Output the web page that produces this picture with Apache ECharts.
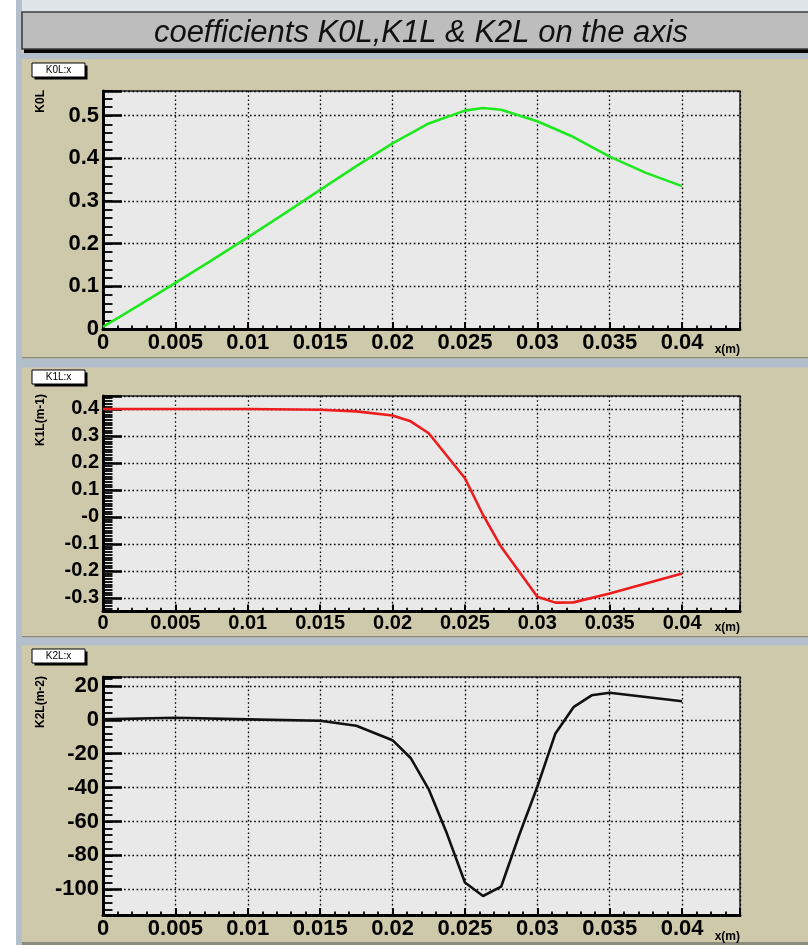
<!DOCTYPE html>
<html>
<head>
<meta charset="utf-8">
<script src="https://cdn.jsdelivr.net/npm/echarts@6/dist/echarts.min.js"></script>
<style>
  html, body { margin: 0; padding: 0; background: #ffffff; }
  #chart { width: 808px; height: 945px; }
</style>
</head>
<body>
<div id="chart"></div>
<script>
// K0L (dipole) along x
const k0lX = [0, 0.0025, 0.005, 0.0075, 0.01, 0.0125, 0.015, 0.0175, 0.02, 0.0225, 0.025, 0.02625, 0.0275, 0.03, 0.0325, 0.035, 0.0375, 0.04];
const k0lY = [0.005, 0.056, 0.108, 0.161, 0.215, 0.270, 0.326, 0.382, 0.435, 0.482, 0.512, 0.518, 0.514, 0.487, 0.450, 0.404, 0.366, 0.335];

// K1L (quadrupole, m-1) along x
const k1lX = [0, 0.005, 0.01, 0.015, 0.0175, 0.02, 0.02125, 0.0225, 0.025, 0.02625, 0.0275, 0.03, 0.03125, 0.0325, 0.035, 0.0375, 0.04];
const k1lY = [0.400, 0.400, 0.400, 0.397, 0.391, 0.376, 0.354, 0.310, 0.143, 0.007, -0.111, -0.296, -0.318, -0.317, -0.284, -0.247, -0.210];

// K2L (sextupole, m-2) along x
const k2lX = [0, 0.005, 0.01, 0.015, 0.0175, 0.02, 0.02125, 0.0225, 0.02375, 0.025, 0.02625, 0.0275, 0.02875, 0.03, 0.03125, 0.0325, 0.03375, 0.035, 0.0375, 0.04];
const k2lY = [0.3, 1.2, 0.3, -0.5, -3.5, -12, -22.5, -41, -67, -96, -104, -98.5, -68, -39.5, -8, 7.5, 14.5, 16, 13.5, 11];

// tick labels
const xTicks = [0, 0.005, 0.01, 0.015, 0.02, 0.025, 0.03, 0.035, 0.04];
const xTickLabels = ['0', '0.005', '0.01', '0.015', '0.02', '0.025', '0.03', '0.035', '0.04'];
const k0lTicks = [0, 0.1, 0.2, 0.3, 0.4, 0.5];
const k0lTickLabels = ['0', '0.1', '0.2', '0.3', '0.4', '0.5'];
const k1lTicks = [-0.3, -0.2, -0.1, 0, 0.1, 0.2, 0.3, 0.4];
const k1lTickLabels = ['-0.3', '-0.2', '-0.1', '-0', '0.1', '0.2', '0.3', '0.4'];
const k2lTicks = [-100, -80, -60, -40, -20, 0, 20];
const k2lTickLabels = ['-100', '-80', '-60', '-40', '-20', '0', '20'];

const FONT = '"Liberation Sans", Arial, Helvetica, sans-serif';

function labelFor(ticks, labels, step) {
  return function (v) {
    for (let i = 0; i < ticks.length; i++) {
      if (Math.abs(ticks[i] - v) < step * 1e-3) return labels[i];
    }
    return '';
  };
}

// fixed tick step, with ticks kept on multiples of the step
function stepped(min, max, step) {
  return { min: min, max: max, minInterval: step, maxInterval: step,
    splitNumber: Math.max(1, Math.round((max - min) / step)) };
}

// one pad per coefficient
const pads = [
  { name: 'K0L:x', yTitle: 'K0L', xs: k0lX, ys: k0lY, color: '#1ee81e',
    frame: { left: 103, top: 91, width: 637, height: 238 },
    yMin: 0, yMax: 0.558, yStep: 0.1, yMinor: 0.02, ticks: k0lTicks, labels: k0lTickLabels,
    fontSize: 22, xMargin: 3, xLen: 7, yLen: 19, box: [32, 63], yTitleTop: 90, xTitleBase: 356 },
  { name: 'K1L:x', yTitle: 'K1L(m-1)', xs: k1lX, ys: k1lY, color: '#ee1c1c',
    frame: { left: 103, top: 396, width: 637, height: 215 },
    yMin: -0.349, yMax: 0.448, yStep: 0.1, yMinor: 0.01, ticks: k1lTicks, labels: k1lTickLabels,
    fontSize: 20, xMargin: 2, xLen: 6.5, yLen: 19, box: [32, 370], yTitleTop: 394, xTitleBase: 634 },
  { name: 'K2L:x', yTitle: 'K2L(m-2)', xs: k2lX, ys: k2lY, color: '#111111',
    frame: { left: 103, top: 677, width: 637, height: 238 },
    yMin: -115.2, yMax: 25.3, yStep: 20, yMinor: 4, ticks: k2lTicks, labels: k2lTickLabels,
    fontSize: 22, xMargin: 3, xLen: 7, yLen: 19, box: [32, 649], yTitleTop: 676, xTitleBase: 943 }
];

const grids = [], xAxes = [], yAxes = [], series = [];
const dotted = { color: '#000', width: 1.3, type: [1.6, 2.6] };

pads.forEach((p, i) => {
  grids.push(Object.assign({ show: true, backgroundColor: '#e9e9e9', borderColor: '#222', borderWidth: 1.5,
    containLabel: false, outerBoundsMode: 'none' }, p.frame));

  const labelStyle = { color: '#000', fontFamily: FONT, fontWeight: 'bold', fontSize: p.fontSize };

  // major x axis
  xAxes.push(Object.assign({ type: 'value', gridIndex: i, position: 'bottom',
    axisLine: { show: true, onZero: false, lineStyle: { color: '#000', width: 3 } },
    axisTick: { show: true, inside: true, length: p.xLen, lineStyle: { color: '#000', width: 2 } },
    splitLine: { show: true, lineStyle: dotted },
    axisLabel: Object.assign({ margin: p.xMargin, formatter: labelFor(xTicks, xTickLabels, 0.005) }, labelStyle)
  }, stepped(0, 0.044, 0.005)));
  // minor x ticks
  xAxes.push(Object.assign({ type: 'value', gridIndex: i, position: 'bottom',
    axisLine: { show: false, onZero: false },
    axisTick: { show: true, inside: true, length: p.xLen / 2, lineStyle: { color: '#000', width: 1.8 } },
    splitLine: { show: false }, axisLabel: { show: false }
  }, stepped(0, 0.044, 0.001)));

  // major y axis
  yAxes.push(Object.assign({ type: 'value', gridIndex: i, position: 'left',
    axisLine: { show: true, onZero: false, lineStyle: { color: '#000', width: 3 } },
    axisTick: { show: true, inside: true, length: p.yLen, lineStyle: { color: '#000', width: 2.5 } },
    splitLine: { show: true, lineStyle: dotted },
    axisLabel: Object.assign({ margin: 4, formatter: labelFor(p.ticks, p.labels, p.yStep) }, labelStyle)
  }, stepped(p.yMin, p.yMax, p.yStep)));
  // minor y ticks
  yAxes.push(Object.assign({ type: 'value', gridIndex: i, position: 'left',
    axisLine: { show: false, onZero: false },
    axisTick: { show: true, inside: true, length: p.yLen / 2, lineStyle: { color: '#000', width: 1.8 } },
    splitLine: { show: false }, axisLabel: { show: false }
  }, stepped(p.yMin, p.yMax, p.yMinor)));

  series.push({ type: 'line', name: p.name, xAxisIndex: 2 * i, yAxisIndex: 2 * i,
    data: p.xs.map((x, k) => [x, p.ys[k]]),
    symbol: 'none', smooth: false, clip: true, z: 5,
    lineStyle: { color: p.color, width: 2.6 } });
});

// canvas decoration: pads, borders, title box, pad labels and axis titles
const graphics = [
  { type: 'rect', shape: { x: 16, y: 0, width: 792, height: 12 }, style: { fill: '#dfe4e8' }, z: -10 },
  { type: 'rect', shape: { x: 16, y: 0, width: 6, height: 945 }, style: { fill: '#b3c0cc' }, z: -9 },
  { type: 'rect', shape: { x: 22, y: 50, width: 786, height: 895 }, style: { fill: '#cfc9ab' }, z: -10 },
  { type: 'rect', shape: { x: 22, y: 53, width: 786, height: 6 }, style: { fill: '#b3c0cc' }, z: -9 },
  { type: 'rect', shape: { x: 22, y: 357, width: 786, height: 1.5 }, style: { fill: '#8c8a7c' }, z: -9 },
  { type: 'rect', shape: { x: 22, y: 358.5, width: 786, height: 9 }, style: { fill: '#b3c0cc' }, z: -9 },
  { type: 'rect', shape: { x: 22, y: 636, width: 786, height: 1.5 }, style: { fill: '#8c8a7c' }, z: -9 },
  { type: 'rect', shape: { x: 22, y: 637.5, width: 786, height: 8 }, style: { fill: '#b3c0cc' }, z: -9 },
  { type: 'rect', shape: { x: 22, y: 942, width: 786, height: 3 }, style: { fill: '#8c8a7c' }, z: -9 },
  // title box
  { type: 'rect', shape: { x: 24, y: 47, width: 790, height: 6 }, style: { fill: '#050505' }, z: -8 },
  { type: 'rect', shape: { x: 22, y: 12, width: 790, height: 37 }, style: { fill: '#bdbdbd', stroke: '#3a3a3a', lineWidth: 1.5 }, z: -7 },
  { type: 'text', x: 421, y: 33, z: 10,
    style: { text: 'coefficients K0L,K1L & K2L on the axis', font: 'italic 31px ' + FONT, fill: '#111',
      align: 'center', verticalAlign: 'middle', textAlign: 'center', textVerticalAlign: 'middle' } }
];

pads.forEach((p) => {
  const bx = p.box[0], by = p.box[1];
  graphics.push({ type: 'rect', shape: { x: bx + 2.5, y: by + 2.5, width: 53, height: 14 }, style: { fill: '#000' }, z: 1 });
  graphics.push({ type: 'rect', shape: { x: bx, y: by, width: 53, height: 14 }, style: { fill: '#fff', stroke: '#000', lineWidth: 1 }, z: 2 });
  graphics.push({ type: 'text', x: bx + 26.5, y: by + 7.5, z: 3,
    style: { text: p.name, font: '10px ' + FONT, fill: '#000', align: 'center', verticalAlign: 'middle',
      textAlign: 'center', textVerticalAlign: 'middle' } });
  graphics.push({ type: 'text', x: 41, y: p.yTitleTop, rotation: Math.PI / 2, z: 3,
    style: { text: p.yTitle, font: 'bold 12px ' + FONT, fill: '#000', align: 'right', verticalAlign: 'middle',
      textAlign: 'right', textVerticalAlign: 'middle' } });
  graphics.push({ type: 'text', x: 740, y: p.xTitleBase, z: 3,
    style: { text: 'x(m)', font: 'bold 12px ' + FONT, fill: '#000', align: 'right', verticalAlign: 'bottom',
      textAlign: 'right', textVerticalAlign: 'bottom' } });
});

const chart = echarts.init(document.getElementById('chart'), null, { renderer: 'canvas' });
chart.setOption({
  animation: false,
  backgroundColor: 'transparent',
  grid: grids,
  xAxis: xAxes,
  yAxis: yAxes,
  series: series,
  graphic: graphics
});
</script>
</body>
</html>
